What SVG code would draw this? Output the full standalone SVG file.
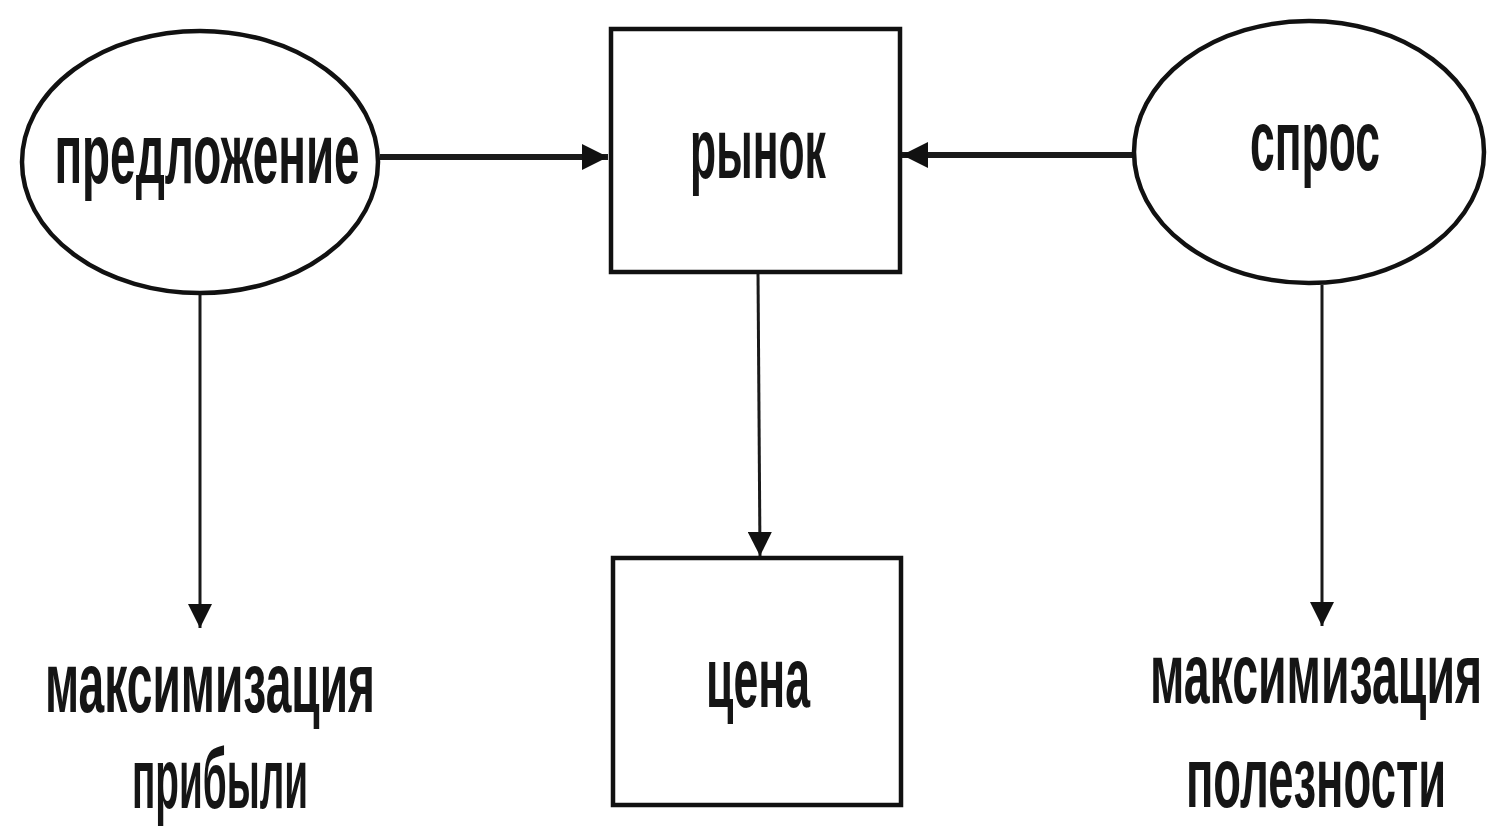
<svg xmlns="http://www.w3.org/2000/svg" width="1489" height="827" viewBox="0 0 1489 827">
  <style>
    .shape { fill: #ffffff; stroke: #111111; stroke-width: 4.5; }
    .label { font-family: "Liberation Sans", Arial, sans-serif; font-weight: bold; font-size: 86px; fill: #151515; text-anchor: middle; }
    .link { stroke: #1a1a1a; fill: none; }
    .thick { stroke-width: 6; }
    .thin { stroke-width: 3; }
  </style>
  <defs>
    <marker id="headH" viewBox="0 0 10 10" refX="10" refY="5" markerUnits="userSpaceOnUse" markerWidth="26" markerHeight="32" orient="auto">
      <path d="M0,0 L10,5 L0,10 Z" fill="#111111"/>
    </marker>
    <marker id="headV" viewBox="0 0 10 10" refX="10" refY="5" markerUnits="userSpaceOnUse" markerWidth="44" markerHeight="24" orient="auto">
      <path d="M0,0 L10,5 L0,10 Z" fill="#111111"/>
    </marker>
  </defs>
  <rect width="1489" height="827" fill="#ffffff"/>

  <!-- connectors -->
  <g id="connectors">
    <line class="link thick" x1="380" y1="157" x2="608" y2="157" marker-end="url(#headH)"/>
    <line class="link thick" x1="1134" y1="155" x2="902" y2="155" marker-end="url(#headH)"/>
    <line class="link thin" x1="758" y1="272" x2="760" y2="556" marker-end="url(#headV)"/>
    <line class="link thin" x1="200" y1="293" x2="200" y2="628" marker-end="url(#headV)"/>
    <line class="link thin" x1="1322" y1="285" x2="1322" y2="626" marker-end="url(#headV)"/>
  </g>

  <!-- labels use a narrow horizontal scale (0.55); textLength is given in the scaled frame -->

  <!-- supply -->
  <g id="supply">
    <ellipse class="shape" cx="200" cy="162" rx="178" ry="131"/>
    <text class="label" transform="translate(207,183) scale(0.55,1)" textLength="555" lengthAdjust="spacingAndGlyphs">предложение</text>
  </g>

  <!-- market -->
  <g id="market">
    <rect class="shape" x="611" y="29" width="289" height="243"/>
    <text class="label" transform="translate(758,178) scale(0.55,1)" textLength="247" lengthAdjust="spacingAndGlyphs">рынок</text>
  </g>

  <!-- demand -->
  <g id="demand">
    <ellipse class="shape" cx="1309" cy="152" rx="175" ry="131"/>
    <text class="label" transform="translate(1315,170) scale(0.55,1)" textLength="236" lengthAdjust="spacingAndGlyphs">спрос</text>
  </g>

  <!-- price -->
  <g id="price">
    <rect class="shape" x="613" y="558" width="288" height="247"/>
    <text class="label" transform="translate(758,707) scale(0.55,1)" textLength="189" lengthAdjust="spacingAndGlyphs">цена</text>
  </g>

  <!-- profit maximisation -->
  <g id="profit">
    <text class="label" transform="translate(210,712) scale(0.55,1)" textLength="600" lengthAdjust="spacingAndGlyphs">максимизация</text>
    <text class="label" transform="translate(220,808) scale(0.55,1)" textLength="320" lengthAdjust="spacingAndGlyphs">прибыли</text>
  </g>

  <!-- utility maximisation -->
  <g id="utility">
    <text class="label" transform="translate(1316,703) scale(0.55,1)" textLength="604" lengthAdjust="spacingAndGlyphs">максимизация</text>
    <text class="label" transform="translate(1316,807) scale(0.55,1)" textLength="473" lengthAdjust="spacingAndGlyphs">полезности</text>
  </g>
</svg>
